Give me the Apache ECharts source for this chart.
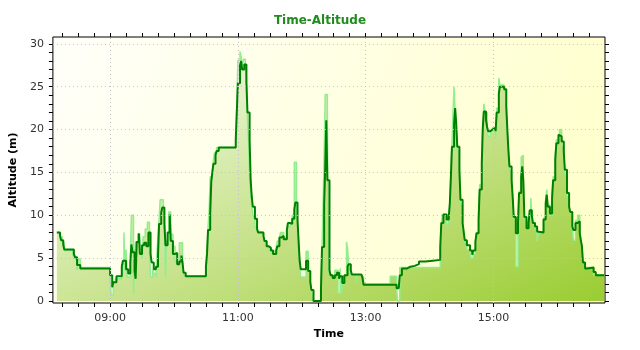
<!DOCTYPE html>
<html><head><meta charset="utf-8">
<script src="https://cdn.jsdelivr.net/npm/echarts@6/dist/echarts.min.js"></script>
<style>html,body{margin:0;padding:0;background:#fff}#c{width:640px;height:350px}</style>
</head><body><div id="c"></div>
<script>
// ---- data ----
const darkTimes = ['08:10','08:13','08:14','08:16','08:17','08:26','08:27','08:29','08:32','09:00','09:02','09:03','09:06','09:11','09:12','09:15','09:17','09:19','09:20','09:21','09:23','09:24','09:25','09:27','09:28','09:30','09:32','09:34','09:36','09:38','09:39','09:41','09:43','09:45','09:46','09:48','09:49','09:51','09:52','09:54','09:56','09:57','09:59','10:01','10:03','10:05','10:07','10:08','10:09','10:11','10:30','10:31','10:32','10:34','10:35','10:36','10:37','10:39','10:40','10:42','10:58','10:59','11:00','11:02','11:03','11:04','11:06','11:08','11:09','11:11','11:12','11:13','11:14','11:16','11:18','11:19','11:24','11:25','11:27','11:29','11:31','11:33','11:36','11:37','11:39','11:41','11:43','11:46','11:47','11:49','11:51','11:53','11:54','11:56','11:57','11:58','11:59','12:04','12:06','12:08','12:09','12:11','12:18','12:19','12:21','12:22','12:23','12:24','12:26','12:27','12:29','12:31','12:33','12:35','12:36','12:38','12:40','12:43','12:44','12:46','12:47','12:56','12:57','12:58','13:29','13:31','13:32','13:34','13:39','13:42','13:46','13:50','13:56','14:03','14:10','14:11','14:13','14:16','14:18','14:19','14:20','14:21','14:23','14:24','14:25','14:26','14:28','14:29','14:31','14:32','14:33','14:35','14:38','14:40','14:41','14:43','14:44','14:46','14:47','14:49','14:50','14:51','14:53','14:54','14:55','14:57','14:59','15:02','15:03','15:05','15:06','15:10','15:12','15:13','15:14','15:15','15:17','15:18','15:19','15:21','15:23','15:24','15:26','15:27','15:28','15:29','15:31','15:33','15:34','15:36','15:37','15:39','15:41','15:42','15:47','15:49','15:50','15:51','15:53','15:55','15:56','15:58','15:59','16:01','16:02','16:04','16:06','16:07','16:09','16:11','16:12','16:14','16:15','16:17','16:19','16:21','16:22','16:23','16:24','16:26','16:28','16:34','16:36','16:44'];
const darkAltitude = [8.0,7.6,7.1,6.6,6.0,5.5,5.1,4.2,3.8,3.0,1.6,2.2,2.9,4.0,4.7,3.7,3.2,4.5,6.6,5.7,3.5,2.6,6.9,7.9,5.5,6.5,6.8,6.4,8.0,5.5,4.5,3.7,4.0,5.3,9.0,10.3,10.9,9.0,6.5,8.0,10.1,7.0,5.5,5.6,4.3,4.6,5.3,4.5,3.3,2.9,4.0,5.5,8.3,10.2,13.9,15.0,16.0,17.0,17.5,17.9,18.8,22.1,25.4,27.5,28.0,27.0,27.6,25.5,22.0,18.8,14.1,12.2,11.0,9.6,8.4,8.0,7.6,7.0,6.4,6.2,5.9,5.5,5.9,6.4,7.4,7.6,7.2,8.3,9.1,9.0,9.6,10.7,11.5,9.4,7.0,4.7,3.7,4.7,3.5,2.2,1.3,0.0,1.3,6.3,11.3,15.6,21.1,14.1,3.6,3.0,2.7,3.0,3.3,2.6,2.9,2.1,3.0,4.0,4.3,3.6,3.1,3.0,2.7,1.9,1.5,1.3,3.0,3.8,4.0,4.1,4.3,4.6,4.7,4.8,6.3,9.1,10.1,9.5,9.8,11.4,14.5,18.0,20.7,22.5,20.7,18.0,15.3,11.8,9.1,8.1,7.1,6.5,5.9,5.4,5.9,6.9,7.9,9.5,13.0,16.1,20.3,22.1,21.1,20.3,19.8,20.0,20.2,19.8,22.0,24.2,25.0,24.7,22.7,20.0,17.6,15.7,14.1,12.2,9.8,7.9,9.1,12.6,14.5,15.7,14.1,9.8,8.5,9.1,10.6,10.0,9.1,8.7,8.1,8.0,9.5,11.4,12.4,11.0,10.2,12.0,14.1,16.5,18.4,19.4,19.2,18.6,17.4,15.3,12.6,11.0,10.4,8.7,8.3,9.1,9.3,7.9,7.1,6.4,4.5,3.8,3.9,3.4,3.0,3.0];

const lightTimes = ['08:10','08:13','08:15','08:17','08:25','08:27','08:29','08:30','08:32','09:00','09:01','09:03','09:05','09:11','09:13','09:14','09:15','09:16','09:19','09:20','09:22','09:23','09:24','09:26','09:28','09:30','09:31','09:33','09:35','09:37','09:38','09:40','09:41','09:43','09:44','09:45','09:46','09:47','09:50','09:51','09:52','09:53','09:55','09:57','09:59','10:01','10:03','10:05','10:08','10:09','10:10','10:30','10:31','10:32','10:33','10:34','10:36','10:37','10:38','10:40','10:58','10:59','11:00','11:02','11:03','11:04','11:05','11:07','11:08','11:09','11:10','11:11','11:12','11:13','11:14','11:16','11:18','11:19','11:24','11:25','11:27','11:29','11:31','11:33','11:34','11:36','11:37','11:39','11:40','11:43','11:46','11:47','11:49','11:51','11:53','11:55','11:56','11:57','11:58','11:59','12:04','12:06','12:08','12:09','12:10','12:18','12:19','12:20','12:21','12:22','12:24','12:25','12:26','12:27','12:29','12:31','12:34','12:36','12:37','12:38','12:40','12:42','12:43','12:44','12:45','12:46','12:51','12:52','12:56','12:58','13:23','13:29','13:30','13:32','14:10','14:11','14:12','14:16','14:18','14:19','14:20','14:21','14:22','14:23','14:24','14:25','14:26','14:28','14:29','14:31','14:32','14:33','14:35','14:38','14:39','14:41','14:43','14:44','14:46','14:47','14:49','14:50','14:51','14:52','14:54','14:55','14:57','14:59','15:02','15:03','15:05','15:06','15:10','15:12','15:13','15:14','15:15','15:17','15:18','15:19','15:21','15:23','15:24','15:26','15:27','15:28','15:29','15:31','15:33','15:35','15:36','15:37','15:39','15:41','15:42','15:47','15:49','15:50','15:51','15:53','15:55','15:56','15:58','15:59','16:02','16:04','16:06','16:07','16:09','16:11','16:12','16:14','16:15','16:17','16:19','16:21','16:22','16:23','16:24','16:26','16:34','16:44'];
const lightAltitude = [8.0,7.5,6.8,5.9,5.3,4.9,3.6,4.9,3.9,2.5,0.7,2.2,2.6,4.3,8.0,3.5,6.0,2.8,4.5,10.0,0.8,5.0,6.9,7.8,6.0,5.0,7.5,8.4,9.2,6.0,2.8,3.7,3.2,2.8,5.5,7.8,9.5,11.8,10.5,10.0,2.8,7.0,10.4,7.8,6.4,4.6,4.2,6.8,4.2,3.2,2.9,4.2,5.8,8.7,10.6,14.5,15.2,16.4,17.3,17.9,19.0,23.0,28.1,29.1,28.5,27.2,28.2,27.5,26.0,21.0,18.8,14.5,12.5,11.2,9.9,8.6,8.2,8.0,7.4,6.9,6.3,6.0,5.6,5.4,5.9,6.3,7.0,7.4,8.0,7.4,8.3,8.7,9.0,10.0,16.2,10.6,9.4,6.5,4.0,2.8,5.8,3.5,2.2,1.3,0.0,1.3,6.3,11.3,17.0,24.1,21.0,3.8,3.2,3.0,2.7,3.6,0.9,3.8,0.9,2.0,3.0,6.9,6.1,4.3,3.6,3.0,2.2,3.0,2.8,2.0,2.9,1.5,0.0,3.9,6.3,9.1,10.1,9.0,9.5,11.4,14.8,18.5,22.0,25.0,22.0,20.0,17.5,14.6,11.2,8.6,7.9,6.8,6.0,5.6,5.0,5.5,6.9,8.0,9.8,13.6,17.0,21.0,23.0,22.0,20.2,19.2,19.8,20.2,19.0,22.5,26.0,25.2,24.5,22.2,19.6,17.0,15.2,13.5,11.6,9.6,4.0,9.1,12.8,16.8,17.0,13.6,9.6,8.7,9.5,12.0,10.0,9.0,8.5,7.0,8.0,9.7,11.8,13.0,11.2,10.0,12.4,14.5,17.0,18.8,20.0,18.0,17.0,14.8,12.2,10.8,10.2,8.6,7.1,9.4,10.0,7.9,7.1,6.4,4.5,3.9,3.0,3.0];

const timeTickLabels = ['09:00','11:00','13:00','15:00'];
const altitudeTickLabels = [0,5,10,15,20,25,30];

// ---- helpers ----
function toMin(s){ const p = s.split(':'); return (+p[0]) * 60 + (+p[1]); }
function fmt(m){ const h = Math.floor(m / 60), mm = Math.round(m - h * 60); return (h < 10 ? '0' : '') + h + ':' + (mm < 10 ? '0' : '') + mm; }
function pairs(ts, vs){ return ts.map((t, i) => [toMin(t), vs[i]]); }

const X_MIN = 486.3, X_MAX = 1004.7, Y_MIN = -0.23, Y_MAX = 30.8;
const minorX = []; for (let m = 495; m <= 1000; m += 15) minorX.push(m);
const minorY = []; for (let v = 0; v <= 30; v += 1) minorY.push(v);
const labelX = timeTickLabels.map(toMin);

const fontFam = 'DejaVu Sans';
const tickStyle = { color: '#000', width: 1 };

const chart = echarts.init(document.getElementById('c'), null, { renderer: 'canvas' });
chart.setOption({
  animation: false,
  backgroundColor: '#fff',
  title: {
    text: 'Time-Altitude', left: 'center', top: 10,
    textStyle: { fontFamily: fontFam, fontSize: 12, fontWeight: 'bold', color: '#1e8c1e' }
  },
  grid: {
    left: 52, right: 35, top: 37, bottom: 47, show: true,
    borderColor: '#000', borderWidth: 1,
    backgroundColor: { type: 'linear', x: 0, y: 0, x2: 1, y2: 1,
      colorStops: [{ offset: 0, color: '#fffffa' }, { offset: 1, color: '#ffffc8' }] }
  },
  xAxis: [
    { type: 'value', position: 'bottom', min: X_MIN, max: X_MAX,
      axisLine: { show: false, onZero: false },
      axisTick: { show: true, customValues: minorX, length: 4, lineStyle: tickStyle },
      axisLabel: { customValues: labelX, formatter: v => fmt(v), margin: 10,
        fontFamily: fontFam, fontSize: 11, color: '#333' },
      splitLine: { show: false },
      name: 'Time', nameLocation: 'middle', nameGap: 24,
      nameTextStyle: { fontFamily: fontFam, fontSize: 11, fontWeight: 'bold', color: '#000' } },
    { type: 'value', position: 'top', min: X_MIN, max: X_MAX,
      axisLine: { show: false, onZero: false },
      axisTick: { show: true, customValues: minorX, length: 4, lineStyle: tickStyle },
      axisLabel: { show: false }, splitLine: { show: false } }
  ],
  yAxis: [
    { type: 'value', position: 'left', min: Y_MIN, max: Y_MAX,
      axisLine: { show: false, onZero: false },
      axisTick: { show: true, customValues: minorY, length: 4, lineStyle: tickStyle },
      axisLabel: { customValues: altitudeTickLabels, margin: 9,
        fontFamily: fontFam, fontSize: 11, color: '#333' },
      splitLine: { show: false },
      name: 'Altitude (m)', nameLocation: 'middle', nameGap: 30, nameRotate: 90,
      nameTextStyle: { fontFamily: fontFam, fontSize: 11, fontWeight: 'bold', color: '#000' } },
    { type: 'value', position: 'right', min: Y_MIN, max: Y_MAX,
      axisLine: { show: false, onZero: false },
      axisTick: { show: true, customValues: minorY, length: 4, lineStyle: tickStyle },
      axisLabel: { show: false }, splitLine: { show: false } }
  ],
  series: [
    { type: 'line', data: [], z: 1, silent: true, xAxisIndex: 0, yAxisIndex: 0,
      markLine: { silent: true, symbol: 'none', label: { show: false }, animation: false,
        lineStyle: { color: '#c4c4c4', type: [1, 3], width: 1 },
        emphasis: { disabled: true },
        data: labelX.map(v => ({ xAxis: v })).concat(altitudeTickLabels.filter(v => v > 0).map(v => ({ yAxis: v }))) } },
    { type: 'line', name: 'raw', data: pairs(lightTimes, lightAltitude), step: 'end',
      symbol: 'none', z: 2, xAxisIndex: 0, yAxisIndex: 0,
      lineStyle: { color: '#90ee90', width: 1.5 },
      areaStyle: { opacity: 1, color: { type: 'linear', x: 0, y: 0, x2: 0.357, y2: 1.66,
        colorStops: [{ offset: 0, color: '#fdfdf8' }, { offset: 1, color: '#9acd32' }] } } },
    { type: 'line', name: 'smooth', data: pairs(darkTimes, darkAltitude), step: 'end',
      symbol: 'none', z: 3, xAxisIndex: 0, yAxisIndex: 0,
      lineStyle: { color: '#008000', width: 2 } }
  ]
});
</script>
</body></html>
